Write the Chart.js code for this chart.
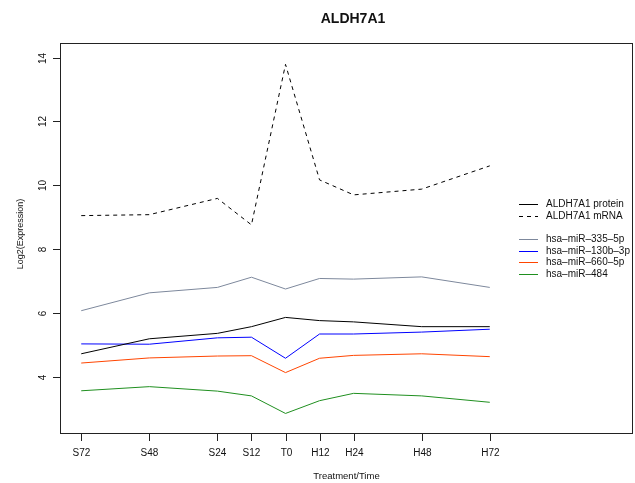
<!DOCTYPE html>
<html>
<head>
<meta charset="utf-8">
<script src="https://cdn.jsdelivr.net/npm/chart.js@4.4.1/dist/chart.umd.min.js"></script>
<style>
  html, body { margin: 0; padding: 0; background: #ffffff; }
  #wrap { width: 635px; height: 483px; }
</style>
</head>
<body>
<div id="wrap"><canvas id="chart" width="635" height="483"></canvas></div>
<script>
// Sampling times in hours relative to T0 (S = before, H = after)
const hours = [-72, -48, -24, -12, 0, 12, 24, 48, 72];
const timeLabels = ['S72', 'S48', 'S24', 'S12', 'T0', 'H12', 'H24', 'H48', 'H72'];
const yTicks = [4, 6, 8, 10, 12, 14];

// Log2 expression per series
const protein = [4.72, 5.19, 5.36, 5.57, 5.86, 5.76, 5.72, 5.57, 5.57];
const mrna    = [9.05, 9.08, 9.59, 8.76, 13.79, 10.17, 9.70, 9.88, 10.61];
const mir335  = [6.07, 6.63, 6.80, 7.12, 6.75, 7.08, 7.06, 7.13, 6.80];
const mir130b = [5.03, 5.02, 5.22, 5.24, 4.58, 5.34, 5.34, 5.40, 5.49];
const mir660  = [4.43, 4.59, 4.65, 4.66, 4.13, 4.58, 4.67, 4.72, 4.63];
const mir484  = [3.56, 3.69, 3.55, 3.40, 2.85, 3.25, 3.48, 3.40, 3.20];

const seriesNames = ['ALDH7A1 protein', 'ALDH7A1 mRNA', 'hsa\u2013miR\u2013335\u20135p',
                     'hsa\u2013miR\u2013130b\u20133p', 'hsa\u2013miR\u2013660\u20135p', 'hsa\u2013miR\u2013484'];
const seriesColors = ['#000000', '#000000', '#7d889c', '#0000ff', '#ff4500', '#1f8f1f'];
const seriesDash = [[], [4, 4], [], [], [], []];
const seriesValues = [protein, mrna, mir335, mir130b, mir660, mir484];

const FONT = '"Liberation Sans", Arial, Helvetica, sans-serif';

const datasets = seriesValues.map((vals, i) => ({
  label: seriesNames[i],
  data: hours.map((h, j) => ({ x: h, y: vals[j] })),
  borderColor: seriesColors[i],
  borderDash: seriesDash[i],
  borderWidth: 1,
  pointRadius: 0,
  tension: 0,
  fill: false
}));

// Frame, axes, title and legend drawn in base-graphics style
const decorations = {
  id: 'decorations',
  afterDraw(chart) {
    const ctx = chart.ctx;
    const a = chart.chartArea;
    const xs = chart.scales.x, ys = chart.scales.y;
    ctx.save();
    ctx.strokeStyle = '#222';
    ctx.lineWidth = 1;
    ctx.setLineDash([]);
    ctx.strokeRect(Math.round(a.left) + 0.5, Math.round(a.top) + 0.5,
                   Math.round(a.right - a.left) - 1, Math.round(a.bottom - a.top) - 1);

    // x axis ticks and labels
    ctx.fillStyle = '#111';
    ctx.font = '10px ' + FONT;
    ctx.textAlign = 'center';
    ctx.textBaseline = 'alphabetic';
    ctx.beginPath();
    hours.forEach((h, i) => {
      const px = Math.round(xs.getPixelForValue(h)) + 0.5;
      ctx.moveTo(px, a.bottom);
      ctx.lineTo(px, a.bottom + 7);
      ctx.fillText(timeLabels[i], px, 456);
    });
    ctx.stroke();

    // y axis ticks and rotated labels
    ctx.font = '10px ' + FONT;
    ctx.beginPath();
    yTicks.forEach(v => {
      const py = Math.round(ys.getPixelForValue(v)) + 0.5;
      ctx.moveTo(a.left, py);
      ctx.lineTo(a.left - 7, py);
      ctx.save();
      ctx.translate(46, py);
      ctx.rotate(-Math.PI / 2);
      ctx.fillText(String(v), 0, 0);
      ctx.restore();
    });
    ctx.stroke();

    // axis titles
    ctx.font = '9.5px ' + FONT;
    ctx.fillText('Treatment/Time', (a.left + a.right) / 2, 479);
    ctx.save();
    ctx.font = '9px ' + FONT;
    ctx.translate(22.5, 234);
    ctx.rotate(-Math.PI / 2);
    ctx.fillText('Log2(Expression)', 0, 0);
    ctx.restore();

    // main title
    ctx.font = 'bold 14px ' + FONT;
    ctx.fillText('ALDH7A1', 353, 23);

    // legend
    const rows = [203.5, 215.5, 239, 250.7, 262.4, 274.1];
    ctx.font = '10px ' + FONT;
    ctx.textAlign = 'left';
    ctx.textBaseline = 'middle';
    seriesNames.forEach((name, i) => {
      const y = Math.round(rows[i]) + 0.5;
      ctx.strokeStyle = seriesColors[i];
      ctx.setLineDash(seriesDash[i]);
      ctx.beginPath();
      ctx.moveTo(519, y);
      ctx.lineTo(538, y);
      ctx.stroke();
      ctx.setLineDash([]);
      ctx.fillStyle = '#111';
      ctx.fillText(name, 546, y);
    });
    ctx.restore();
  }
};

new Chart(document.getElementById('chart'), {
  type: 'line',
  data: { datasets },
  options: {
    responsive: false,
    animation: false,
    devicePixelRatio: 1,
    layout: { padding: { top: 43, right: 2, left: 0, bottom: 0 } },
    plugins: { legend: { display: false }, title: { display: false }, tooltip: { enabled: false } },
    scales: {
      x: {
        type: 'linear',
        min: -79.48,
        max: 122.48,
        grid: { display: false },
        border: { display: false },
        ticks: { display: false },
        afterFit(scale) { scale.height = 49; }
      },
      y: {
        type: 'linear',
        min: 2.206,
        max: 14.46,
        grid: { display: false },
        border: { display: false },
        ticks: { display: false },
        afterFit(scale) { scale.width = 60; }
      }
    }
  },
  plugins: [decorations]
});
</script>
</body>
</html>
